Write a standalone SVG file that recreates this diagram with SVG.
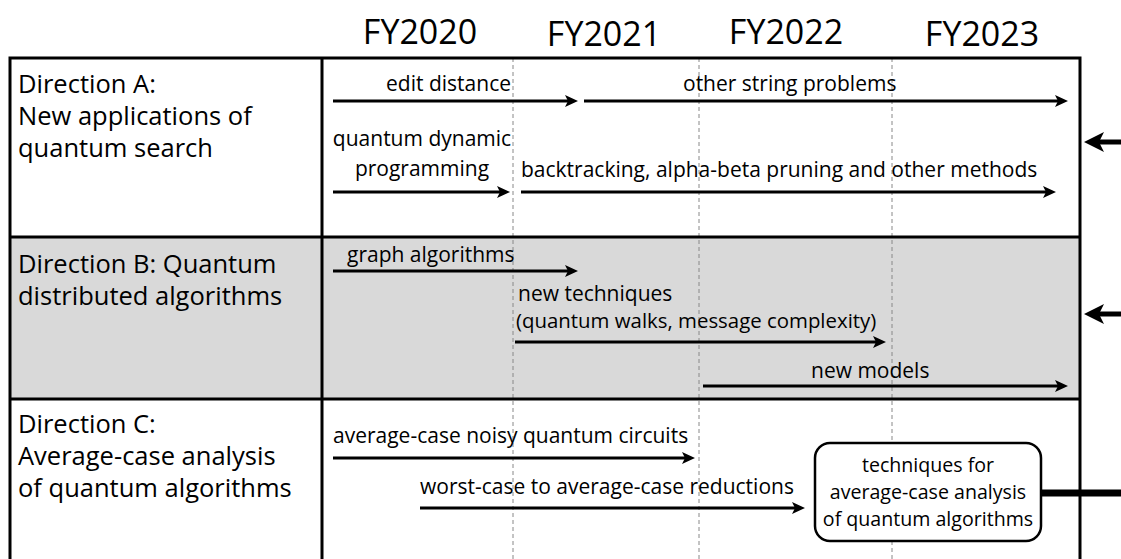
<svg xmlns="http://www.w3.org/2000/svg" width="1121" height="559" viewBox="0 0 1121 559">
<defs>
<marker id="ah" viewBox="0 0 13 12" refX="8" refY="6" markerWidth="13" markerHeight="12" markerUnits="userSpaceOnUse" orient="auto">
<path d="M0,0 L13,6 L0,12 L3,6 Z" fill="#000"/>
</marker>
<marker id="ahb" viewBox="0 0 20 20" refX="12" refY="10" markerWidth="20" markerHeight="20" markerUnits="userSpaceOnUse" orient="auto">
<path d="M0,0 L20,10 L0,20 L5,10 Z" fill="#000"/>
</marker>
<style>
text{font-family:"Open Sans","Noto Sans","Liberation Sans",sans-serif;fill:#000}
.yr{font-size:34px;text-anchor:middle}
.lab{font-size:25.5px}
.t{font-size:21px}
.bx{font-size:19.6px;text-anchor:middle}
.grid{stroke:#000;stroke-width:3;fill:none}
.dash{stroke:#888;stroke-width:1;stroke-dasharray:4,3}
.arr{stroke:#000;stroke-width:3;fill:none}
.big{stroke:#000;stroke-width:5;fill:none}
</style>
</defs>
<rect x="0" y="0" width="1121" height="559" fill="#fff"/>
<g id="years">
<text class="yr" x="420" y="44">FY2020</text>
<text class="yr" x="604" y="46">FY2021</text>
<text class="yr" x="786" y="44">FY2022</text>
<text class="yr" x="982" y="46">FY2023</text>
</g>
<g id="rowB-bg"><rect x="10" y="237" width="1070" height="162" fill="#d9d9d9"/></g>
<g id="grid">
<path class="dash" d="M513,58 V559 M699,58 V559 M892,58 V559"/>
<path class="grid" d="M10,559 V58 H1080 V559 M322,58 V559 M10,237 H1080 M10,399 H1080"/>
</g>
<g id="directionA">
<text class="lab" x="18" y="93">Direction A:</text>
<text class="lab" x="18" y="125">New applications of</text>
<text class="lab" x="18" y="157">quantum search</text>
</g>
<g id="directionB">
<text class="lab" x="18" y="273">Direction B: Quantum</text>
<text class="lab" x="18" y="305">distributed algorithms</text>
</g>
<g id="directionC">
<text class="lab" x="18" y="433">Direction C:</text>
<text class="lab" x="18" y="465">Average-case analysis</text>
<text class="lab" x="18" y="497">of quantum algorithms</text>
</g>
<g id="box">
<rect x="815" y="443" width="226" height="98" rx="15" fill="#fff" stroke="#000" stroke-width="2.5"/>
<text class="bx" x="928" y="472">techniques for</text>
<text class="bx" x="928" y="499">average-case analysis</text>
<text class="bx" x="928" y="526">of quantum algorithms</text>
</g>
<g id="labels">
<text class="t" x="511" y="91" text-anchor="end">edit distance</text>
<text class="t" x="683" y="91">other string problems</text>
<text class="t" x="422" y="146" text-anchor="middle">quantum dynamic</text>
<text class="t" x="422" y="176" text-anchor="middle">programming</text>
<text class="t" x="521" y="177">backtracking, alpha-beta pruning and other methods</text>
<text class="t" x="347" y="262">graph algorithms</text>
<text class="t" x="518" y="301">new techniques</text>
<text class="t" x="516" y="328" style="font-size:20.4px">(quantum walks, message complexity)</text>
<text class="t" x="811" y="378">new models</text>
<text class="t" x="333" y="443">average-case noisy quantum circuits</text>
<text class="t" x="420" y="494">worst-case to average-case reductions</text>
</g>
<g id="connectors">
<line class="arr" x1="333" y1="101" x2="573" y2="101" marker-end="url(#ah)"/>
<line class="arr" x1="584" y1="101" x2="1063" y2="101" marker-end="url(#ah)"/>
<line class="arr" x1="333" y1="192" x2="505" y2="192" marker-end="url(#ah)"/>
<line class="arr" x1="521" y1="192" x2="1051" y2="192" marker-end="url(#ah)"/>
<line class="arr" x1="333" y1="271" x2="573" y2="271" marker-end="url(#ah)"/>
<line class="arr" x1="515" y1="342" x2="881" y2="342" marker-end="url(#ah)"/>
<line class="arr" x1="703" y1="386" x2="1063" y2="386" marker-end="url(#ah)"/>
<line class="arr" x1="333" y1="458" x2="690" y2="458" marker-end="url(#ah)"/>
<line class="arr" x1="420" y1="508" x2="800" y2="508" marker-end="url(#ah)"/>
<line class="big" x1="1121" y1="142" x2="1092" y2="142" marker-end="url(#ahb)"/>
<line class="big" x1="1121" y1="314" x2="1092" y2="314" marker-end="url(#ahb)"/>
<line x1="1041" y1="493" x2="1121" y2="493" stroke="#000" stroke-width="7"/>
</g>
</svg>
